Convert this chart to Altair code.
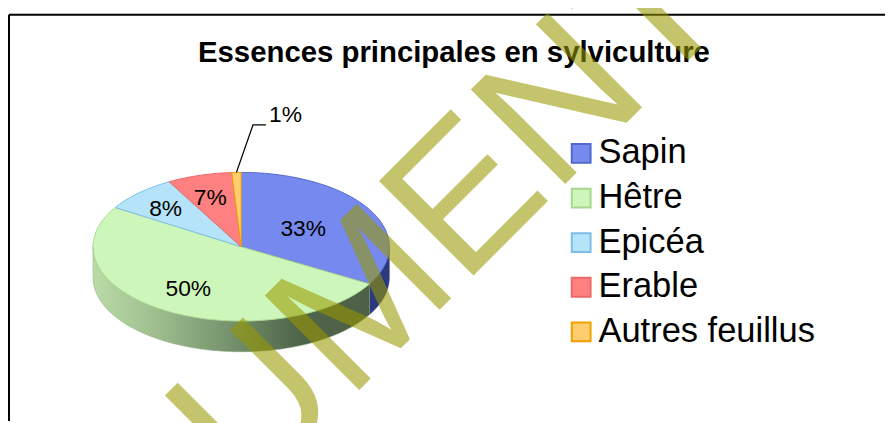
import math
import altair as alt
import pandas as pd

# ---- values
species = ["Sapin", "Hêtre", "Epicéa", "Erable", "Autres feuillus"]
shares = [33, 50, 8, 7, 1]
labels = ["33%", "50%", "8%", "7%", "1%"]
fills = ["#7589EE", "#CDF7BA", "#B5E3F9", "#FF8080", "#FFCC70"]
strokes = ["#5468CC", "#A9D58E", "#7DBDE6", "#E86A6A", "#EDA000"]
title_text = "Essences principales en sylviculture"
watermark = "DOCUMENT"

# ---- layout (chart pixels: page pixel minus the 8px margin)
W, H = 885, 415
CX, CY, RX, RY = 235.3, 239, 149.5, 75
DEPTH = 31 / RY
label_pos = [(0.419, 0.24), (-0.357, -0.573), (-0.51, 0.507), (-0.209, 0.653), (0.299, 1.773)]

x_scale = alt.Scale(domain=[-CX / RX, (W - CX) / RX], range=[0, W])
y_scale = alt.Scale(domain=[(CY - H) / RY, CY / RY], range=[H, 0])
X = alt.X("x:Q", scale=x_scale, axis=None)
Y = alt.Y("y:Q", scale=y_scale, axis=None)
total = sum(shares)


def pt(deg):
    a = math.radians(deg)
    return math.sin(a), math.cos(a)


# sectors, clockwise from 12 o'clock
rows = []
start = 0.0
edges = []
for name, s in zip(species, shares):
    end = start + 360 * s / total
    edges.append((start, end))
    poly = [(0.0, 0.0)]
    steps = max(4, int(end - start))
    poly += [pt(start + (end - start) * i / steps) for i in range(steps + 1)]
    poly.append((0.0, 0.0))
    rows += [{"species": name, "i": i, "x": p[0], "y": p[1]} for i, p in enumerate(poly)]
    start = end
sectors = pd.DataFrame(rows)


def rim(a0, a1):
    n = max(2, int(abs(a1 - a0)))
    out = []
    for i in range(n + 1):
        xx, yy = pt(a0 + (a1 - a0) * i / n)
        out.append({"x": xx, "y": yy, "y2": yy - DEPTH})
    return pd.DataFrame(out)


def grad(stops):
    return alt.Gradient(
        gradient="linear", x1=0, x2=1, y1=0, y2=0,
        stops=[alt.GradientStop(offset=o, color=c) for o, c in stops],
    )


rim_hetre = alt.Chart(rim(edges[1][0], 270)).mark_area(
    color=grad([(0, "#B9DBA6"), (0.2, "#A3C292"), (0.5, "#74916C"), (0.75, "#4F6449"), (1, "#4C6147")]),
    stroke="#8AA67A", strokeWidth=0.5,
).encode(x=X, y=Y, y2=alt.Y2("y2:Q"))
rim_sapin = alt.Chart(rim(90, edges[0][1])).mark_area(
    color="#2B3A7E", stroke="#2B3A7E", strokeWidth=0.5,
).encode(x=X, y=Y, y2=alt.Y2("y2:Q"))

color_enc = alt.Color(
    "species:N",
    scale=alt.Scale(domain=species, range=fills),
    legend=alt.Legend(
        orient="none", legendX=561, legendY=127.5, title=None,
        symbolType="square", symbolSize=361, symbolStrokeWidth=2,
        labelFontSize=34.8, labelFont="Liberation Sans", labelColor="black",
        labelOffset=0, rowPadding=9, labelLimit=300,
    ),
)
stroke_enc = alt.Stroke(
    "species:N", scale=alt.Scale(domain=species, range=strokes), legend=None
)
top = alt.Chart(sectors).mark_line(filled=True, strokeWidth=1).encode(
    x=X, y=Y, order="i:Q", color=color_enc, stroke=stroke_enc,
)

text_rows = [
    {"x": p[0], "y": p[1], "t": t} for p, t in zip(label_pos, labels)
]
pct = alt.Chart(pd.DataFrame(text_rows)).mark_text(
    font="Liberation Sans", fontSize=23, color="black"
).encode(x=X, y=Y, text="t:N")

leader = alt.Chart(pd.DataFrame([
    {"x": pt(edges[4][0] + 1.8)[0], "y": 1.0, "i": 0},
    {"x": 0.08, "y": 1.64, "i": 1},
    {"x": 0.167, "y": 1.64, "i": 2},
])).mark_line(color="black", strokeWidth=1.3).encode(x=X, y=Y, order="i:Q")

frame_top = alt.Chart(pd.DataFrame({"a": [0]})).mark_rule(color="black", strokeWidth=2).encode(
    x=alt.value(1), x2=alt.value(W), y=alt.value(5)
)
frame_left = alt.Chart(pd.DataFrame({"a": [0]})).mark_rule(color="black", strokeWidth=2).encode(
    x=alt.value(1), y=alt.value(5), y2=alt.value(H)
)

title = alt.Chart(pd.DataFrame({"t": [title_text]})).mark_text(
    font="Liberation Sans", fontSize=29.6, fontWeight="bold", color="black",
    align="center", baseline="middle",
).encode(x=alt.value(450), y=alt.value(44), text="t:N")

wm = alt.Chart(pd.DataFrame({"t": [watermark]})).mark_text(
    font="Liberation Sans", fontSize=196, angle=315, align="left", baseline="alphabetic",
    color="#999900", opacity=0.57,
).encode(x=alt.value(-65), y=alt.value(803), text="t:N")

chart = alt.layer(frame_top, frame_left, title, rim_sapin, rim_hetre, top, pct, leader, wm).resolve_scale(
    x="shared", y="shared"
).properties(
    width=W, height=H, padding=0, background="white",
    autosize=alt.AutoSizeParams(type="none"),
).configure_view(stroke=None)

chart.save("out.html", embed_options={"renderer": "svg", "actions": False})
